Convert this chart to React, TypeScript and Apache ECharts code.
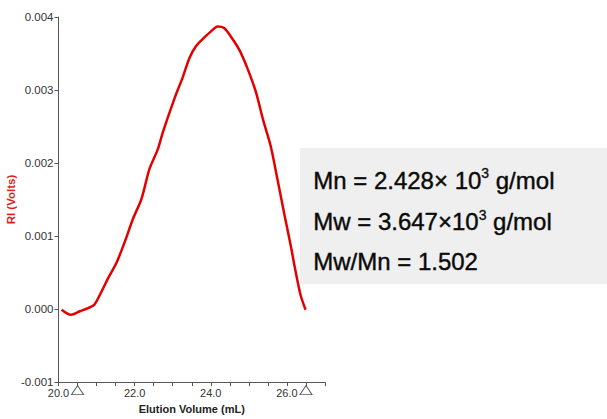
import React, { useEffect, useRef } from "react";
import * as echarts from "echarts";

const elutionVolume = [20.08, 20.33, 20.56, 20.78, 20.94, 21.13, 21.3, 21.52, 21.74, 21.96, 22.18, 22.39, 22.61, 22.74, 23.05, 23.26, 23.44, 23.61, 23.83, 24.0, 24.18, 24.35, 24.53, 24.75, 24.96, 25.18, 25.38, 25.57, 25.75, 25.92, 26.1, 26.23, 26.36, 26.49];
const riVolts = [-0.00001, -0.000078, -0.00003, 0.000014, 0.00006, 0.00024, 0.00042, 0.00063, 0.00092, 0.00124, 0.00151, 0.00192, 0.00219, 0.00242, 0.00289, 0.00317, 0.00344, 0.0036, 0.00372, 0.0038, 0.00387, 0.00385, 0.00373, 0.00355, 0.0033, 0.00298, 0.00258, 0.00224, 0.00178, 0.00133, 0.00087, 0.00051, 0.00019, -0.00001];
const limitMarkers = [20.5, 26.5];
const xTickLabels = ["20.0", "22.0", "24.0", "26.0"];
const statLines = [
  { label: "Mn = 2.428× 10", sup: "3", unit: " g/mol" },
  { label: "Mw = 3.647×10", sup: "3", unit: " g/mol" },
  { label: "Mw/Mn = 1.502", sup: "", unit: "" },
];

const FONT = "'Liberation Sans', Arial, sans-serif";

export default function App() {
  const ref = useRef<HTMLDivElement>(null);
  useEffect(() => {
    if (!ref.current) return;
    const chart = echarts.init(ref.current, undefined, { renderer: "svg" });
    const lineData = elutionVolume.map((x, i) => [x, riVolts[i]]);
    const statTexts = statLines.map((s, i) => ({
      type: "text",
      left: 313,
      top: 166 + i * 41.5,
      z: 101,
      style: {
        text: s.sup ? `{m|${s.label}}{s|${s.sup}}{m|${s.unit}}` : `{m|${s.label}}`,
        rich: {
          m: { fontSize: 24, fontFamily: FONT, fill: "#0a0a0a", lineHeight: 28, stroke: "#0a0a0a", lineWidth: 0.4 },
          s: { fontSize: 14, fontFamily: FONT, fill: "#0a0a0a", verticalAlign: "top", lineHeight: 28, padding: [0, 0, 11, 0], stroke: "#0a0a0a", lineWidth: 0.3 },
        },
      },
    }));
    chart.setOption({
      animation: false,
      backgroundColor: "#fff",
      grid: { left: 58.5, top: 17, right: 282, bottom: 34, containLabel: false },
      xAxis: {
        type: "value",
        min: 20,
        max: 27,
        interval: 0.5,
        name: "Elution Volume (mL)",
        nameLocation: "middle",
        nameGap: 16,
        nameTextStyle: { fontFamily: FONT, fontSize: 11, fontWeight: "bold", color: "#222" },
        axisLine: { show: true, onZero: false, lineStyle: { color: "#555", width: 1 } },
        axisTick: { show: true, length: 4, lineStyle: { color: "#555" } },
        axisLabel: {
          fontFamily: FONT,
          fontSize: 11,
          color: "#333",
          margin: 5,
          showMinLabel: true,
          formatter: (v: number) => {
            const s = v.toFixed(1);
            return xTickLabels.includes(s) ? s : "";
          },
        },
        splitLine: { show: false },
      },
      yAxis: {
        type: "value",
        min: -0.001,
        max: 0.004,
        interval: 0.001,
        name: "RI (Volts)",
        nameLocation: "middle",
        nameGap: 40,
        nameTextStyle: { fontFamily: FONT, fontSize: 11.5, fontWeight: "bold", color: "#e31b1b" },
        axisLine: { show: true, onZero: false, lineStyle: { color: "#555", width: 1 } },
        axisTick: { show: true, length: 4, lineStyle: { color: "#555" } },
        axisLabel: {
          fontFamily: FONT,
          fontSize: 11.5,
          color: "#333",
          margin: 5,
          formatter: (v: number) => v.toFixed(3),
        },
        splitLine: { show: false },
      },
      series: [
        {
          type: "line",
          data: lineData,
          smooth: 0.3,
          showSymbol: false,
          lineStyle: { color: "#e50000", width: 2.5 },
          z: 3,
        },
        {
          type: "scatter",
          data: limitMarkers.map((x) => [x, -0.001]),
          symbol: "triangle",
          symbolSize: [12, 9],
          symbolOffset: [0, 8],
          clip: false,
          itemStyle: { color: "#fff", borderColor: "#333", borderWidth: 1 },
          z: 5,
        },
      ],
      graphic: [
        {
          type: "rect",
          shape: { x: 300, y: 148, width: 307, height: 136 },
          style: { fill: "#efefef" },
          z: 100,
        },
        ...statTexts,
      ],
    });
    return () => chart.dispose();
  }, []);
  return <div ref={ref} style={{ position: "fixed", left: 0, top: 0, width: 607, height: 419 }} />;
}
